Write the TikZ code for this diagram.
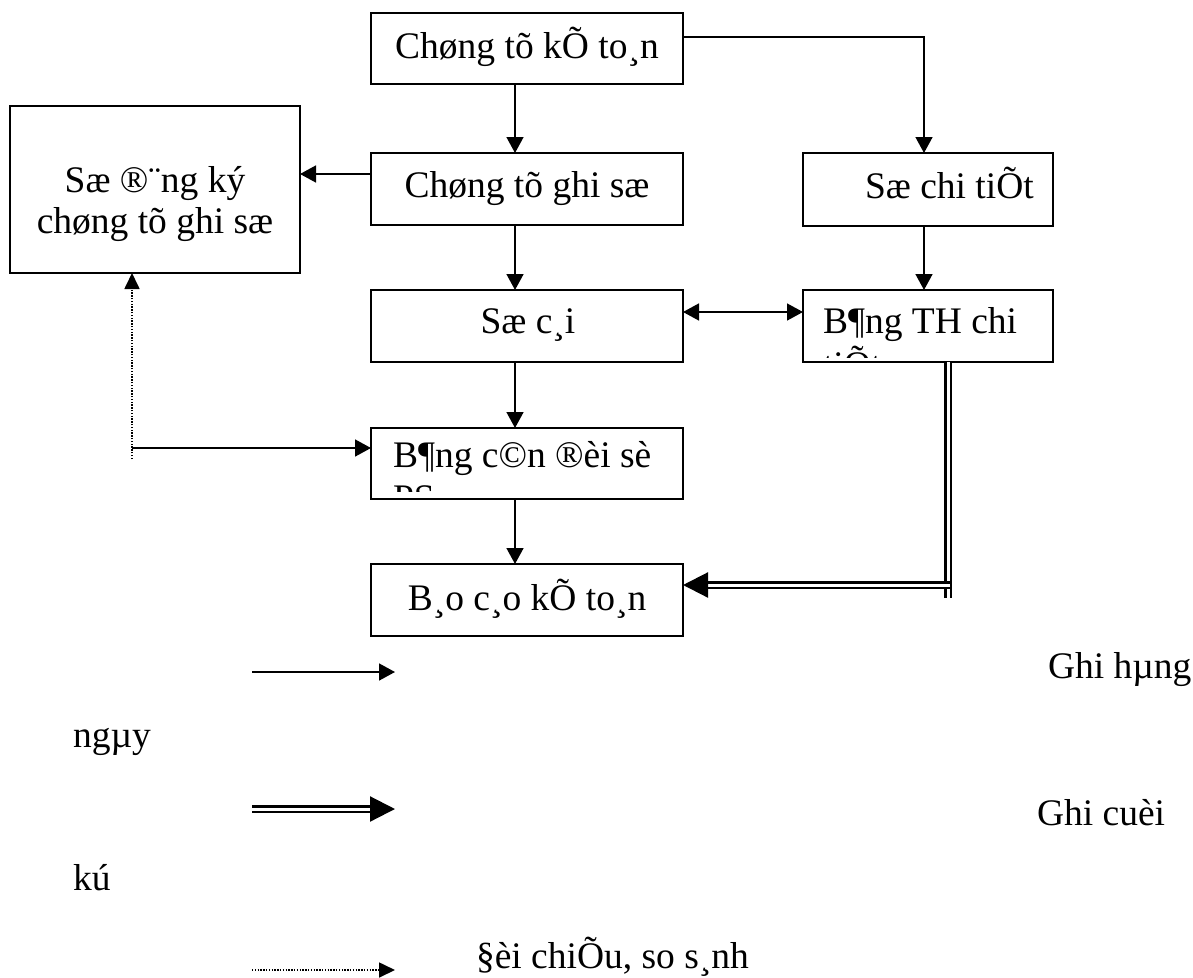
\documentclass[tikz,border=0pt]{standalone}
\usepackage{fontspec}
\setmainfont{Liberation Serif}
\usetikzlibrary{arrows.meta}
\begin{document}
\begin{tikzpicture}[x=1pt,y=-1pt,
  box/.style={draw,line width=1.5pt,rectangle,inner sep=0pt,outer sep=0pt},
  txt/.style={inner sep=0pt,outer sep=0pt,font=\fontsize{37.5}{42}\selectfont},
  conn/.style={line width=1.5pt,-{Triangle[length=16pt,width=17pt]}},
  bconn/.style={line width=1.5pt,{Triangle[length=16pt,width=17pt]}-{Triangle[length=16pt,width=17pt]}},
  dconn/.style={line width=1.7pt,dash pattern=on 1.4pt off 1.4pt,-{Triangle[length=16pt,width=15pt]}},
  dbl/.style={line width=2.2pt,double,double distance=3pt},
  dblarrow/.style={dbl,-{Triangle[length=25pt,width=25pt]}}]
\useasboundingbox (0,0) rectangle (1193,977);
% boxes
\node[box,minimum width=312pt,minimum height=71pt] (b1) at (527,48.5) {};
\node[box,minimum width=290pt,minimum height=167pt] (sdk) at (155,189.5) {};
\node[box,minimum width=312pt,minimum height=72pt] (cgs) at (527,189) {};
\node[box,minimum width=250pt,minimum height=73pt] (sct) at (928,189.5) {};
\node[box,minimum width=312pt,minimum height=72pt] (sc) at (527,326) {};
\node[box,minimum width=250pt,minimum height=72pt] (bth) at (928,326) {};
\node[box,minimum width=312pt,minimum height=71pt] (bcd) at (527,463.5) {};
\node[box,minimum width=312pt,minimum height=72pt] (bcao) at (527,600) {};
% texts
\node[txt,anchor=base] (t1) at (527,58) {Chøng tõ kÕ to¸n};
\node[txt,anchor=base] (t2) at (527,197) {Chøng tõ ghi sæ};
\node[txt,anchor=base] (t3a) at (155,192) {Sæ ®¨ng ký};
\node[txt,anchor=base] (t3b) at (155,233) {chøng tõ ghi sæ};
\node[txt,anchor=base west] (t4) at (865,198) {Sæ chi tiÕt};
\node[txt,anchor=base] (t5) at (528,333) {Sæ c¸i};
\node[txt,anchor=base west] (t6a) at (823,333) {B¶ng TH chi};
\begin{scope}
  \clip (804,291) rectangle (1052,357);
  \node[txt,anchor=base west] (t6b) at (823,377) {tiÕt};
\end{scope}
\node[txt,anchor=base west] (t7a) at (393,467) {B¶ng c©n ®èi sè};
\begin{scope}
  \clip (372,429) rectangle (682,491);
  \node[txt,anchor=base west] (t7b) at (393,510) {PS};
\end{scope}
\node[txt,anchor=base] (t8) at (527,610) {B¸o c¸o kÕ to¸n};
% helper coordinates
\coordinate (xa) at (515,0);
\coordinate (xr) at (924,0);
\coordinate (ya) at (0,37);
\coordinate (yb) at (0,174);
\coordinate (yc) at (0,312);
\coordinate (xd) at (132,0);
\coordinate (yd) at (0,448);
\coordinate (de) at (132,459);
\coordinate (xdb) at (948,0);
\coordinate (dv) at (948,598);
\coordinate (dh) at (950,585);
% connectors
\draw[conn] (b1.south -| xa) -- (cgs.north -| xa);
\draw[conn] (b1.east |- ya) -| (sct.north -| xr);
\draw[conn] (cgs.west |- yb) -- (sdk.east |- yb);
\draw[conn] (cgs.south -| xa) -- (sc.north -| xa);
\draw[conn] (sct.south -| xr) -- (bth.north -| xr);
\draw[bconn] (sc.east |- yc) -- (bth.west |- yc);
\draw[conn] (sc.south -| xa) -- (bcd.north -| xa);
\draw[dconn] (de) -- (sdk.south -| xd);
\draw[conn] (xd |- yd) -- (bcd.west |- yd);
\draw[conn] (bcd.south -| xa) -- (bcao.north -| xa);
\draw[dbl] (bth.south -| xdb) -- (dv);
\draw[dblarrow] (dh) -- (bcao.east |- dh);
% legend
\coordinate (l1a) at (252,672); \coordinate (l1b) at (395,672);
\coordinate (l2a) at (252,809); \coordinate (l2b) at (395,809);
\coordinate (l3a) at (252,970); \coordinate (l3b) at (395,970);
\draw[conn] (l1a) -- (l1b);
\draw[dblarrow] (l2a) -- (l2b);
\draw[dconn] (l3a) -- (l3b);
\node[txt,anchor=base west] (g1) at (1048,678) {Ghi hµng};
\node[txt,anchor=base west] (g2) at (73,747) {ngµy};
\node[txt,anchor=base west] (g3) at (1037,825) {Ghi cuèi};
\node[txt,anchor=base west] (g4) at (73,890) {kú};
\node[txt,anchor=base west] (g5) at (476,968) {§èi chiÕu, so s¸nh};
\end{tikzpicture}
\end{document}
